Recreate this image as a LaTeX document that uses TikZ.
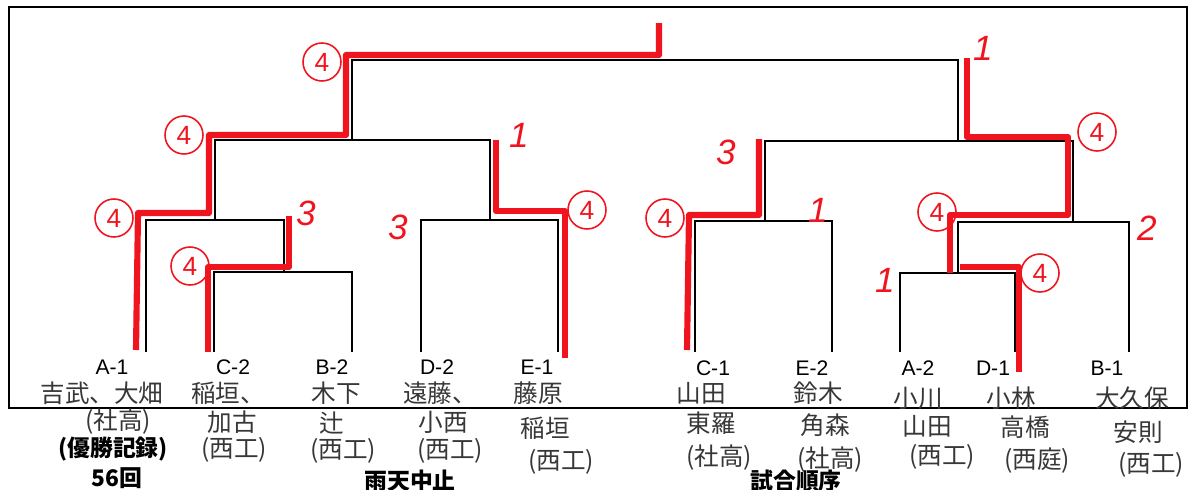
\documentclass[tikz,border=0pt]{standalone}
\usepackage{fontspec}
\newfontfamily\jpfont{Noto Sans CJK JP}
\newfontfamily\latfont{Liberation Sans}
\definecolor{penred}{RGB}{240,20,30}
\definecolor{ink}{RGB}{55,55,55}

\begin{document}
\begin{tikzpicture}[
      x=0.02cm, y=-0.02cm, % 1 unit = 1 px of the sheet
      frame/.style={draw, line width=1pt},
      bar/.style={draw, line width=1.1pt},
      win/.style={draw=penred, line width=3.5pt, line join=round},
      ring/.style={draw=penred, circle, line width=0.9pt, minimum size=0.76cm, inner sep=0pt, text=penred, font=\latfont\fontsize{15}{15}\selectfont},
      score/.style={text=penred, font=\latfont\itshape\fontsize{20}{20}\selectfont},
      team/.style={inner sep=0pt, font=\latfont\fontsize{12}{12}\selectfont},
      hand/.style={inner sep=0pt, text=ink, font=\jpfont\fontsize{14}{14}\selectfont},
      note/.style={inner sep=0pt, font=\jpfont\bfseries\fontsize{13}{13}\selectfont}
    ]
    \useasboundingbox (0,0) rectangle (1200,490);
    \draw[frame] (9,7) rectangle (1187,408);

    % entries (foot of each line)
    \coordinate (a1) at (146,352);
    \coordinate (c2) at (214,352);
    \coordinate (b2) at (352,352);
    \coordinate (d2) at (421,352);
    \coordinate (e1) at (558,352);
    \coordinate (c1) at (695,352);
    \coordinate (e2) at (832,352);
    \coordinate (a2) at (900,352);
    \coordinate (d1) at (1015,352);
    \coordinate (b1) at (1129,352);

    % match points
    \coordinate (j1) at (284,272);
    \coordinate (j2) at (215,220);
    \coordinate (j3) at (490,220);
    \coordinate (j4) at (352,140);
    \coordinate (j5) at (765,221);
    \coordinate (j6) at (958,273);
    \coordinate (j7) at (1073,222);
    \coordinate (j8) at (958,141);
    \coordinate (j9) at (658,60);

    % bracket
    \draw[bar] (c2) |- (j1) -| (b2);
    \draw[bar] (a1) |- (j2) -| (j1);
    \draw[bar] (d2) |- (j3) -| (e1);
    \draw[bar] (j2) |- (j4) -| (j3);
    \draw[bar] (c1) |- (j5) -| (e2);
    \draw[bar] (a2) |- (j6) -| (d1);
    \draw[bar] (j6) |- (j7) -| (b1);
    \draw[bar] (j5) |- (j8) -| (j7);
    \draw[bar] (j4) |- (j9) -| (j8);

    % winners in red
    \draw[win] (136,350) -- (138,213) -- (209,213) -- (209,135) -- (346,135) -- (346,55) -- (659,55) -- (659,23);
    \draw[win] (208,352) -- (208,267) -- (289,267) -- (289,216);
    \draw[win] (565,358) -- (565,211) -- (496,211) -- (496,140);
    \draw[win] (687,350) -- (689,215) -- (759,215) -- (759,139);
    \draw[win] (1019,372) -- (1019,267) -- (960,267);
    \draw[win] (950,273) -- (950,215) -- (1068,215) -- (1068,137) -- (967,137) -- (967,58);

    % circled scores
    \node[ring] (r1) at (322,62) {4};
    \node[ring] (r2) at (184,135) {4};
    \node[ring] (r3) at (114,218) {4};
    \node[ring] (r4) at (190,266) {4};
    \node[ring] (r5) at (587,210) {4};
    \node[ring] (r6) at (665,218) {4};
    \node[ring] (r7) at (1097,132) {4};
    \node[ring] (r8) at (937,212) {4};
    \node[ring] (r9) at (1040,273) {4};

    % losing scores
    \node[score] (s1) at (306,213) {3};
    \node[score] (s2) at (398,227) {3};
    \node[score] (s3) at (519,135) {1};
    \node[score] (s4) at (726,152) {3};
    \node[score] (s5) at (818,210) {1};
    \node[score] (s6) at (983,48) {1};
    \node[score] (s7) at (1147,228) {2};
    \node[score] (s8) at (885,280) {1};

    % team codes
    \node[team] (ta1) at (112,367) {A-1};
    \node[team] (tc2) at (233,367) {C-2};
    \node[team] (tb2) at (332,367) {B-2};
    \node[team] (td2) at (437,367) {D-2};
    \node[team] (te1) at (537,367) {E-1};
    \node[team] (tc1) at (713,368) {C-1};
    \node[team] (te2) at (812,368) {E-2};
    \node[team] (ta2) at (918,368) {A-2};
    \node[team] (td1) at (993,368) {D-1};
    \node[team] (tb1) at (1107,368) {B-1};

    % players and clubs
    \node[hand] (a1n) at (102,393) {吉武、大畑};
    \node[hand] (a1c) at (118,422) {(社高)};
    \node[hand] (c2n) at (228,393) {稲垣、};
    \node[hand] (c2m) at (232,422) {加古};
    \node[hand] (c2c) at (234,450) {(西工)};
    \node[hand] (b2n) at (336,393) {木下};
    \node[hand] (b2m) at (332,423) {辻};
    \node[hand] (b2c) at (343,451) {(西工)};
    \node[hand] (d2n) at (440,393) {遠藤、};
    \node[hand] (d2m) at (443,422) {小西};
    \node[hand] (d2c) at (450,451) {(西工)};
    \node[hand] (e1n) at (538,393) {藤原};
    \node[hand] (e1m) at (545,428) {稲垣};
    \node[hand] (e1c) at (561,462) {(西工)};
    \node[hand] (c1n) at (701,393) {山田};
    \node[hand] (c1m) at (711,423) {東羅};
    \node[hand] (c1c) at (719,458) {(社高)};
    \node[hand] (e2n) at (818,393) {鈴木};
    \node[hand] (e2m) at (825,425) {角森};
    \node[hand] (e2c) at (830,460) {(社高)};
    \node[hand] (a2n) at (918,398) {小川};
    \node[hand] (a2m) at (927,426) {山田};
    \node[hand] (a2c) at (942,457) {(西工)};
    \node[hand] (d1n) at (1011,398) {小林};
    \node[hand] (d1m) at (1025,427) {高橋};
    \node[hand] (d1c) at (1037,461) {(西庭)};
    \node[hand] (b1n) at (1132,398) {大久保};
    \node[hand] (b1m) at (1138,432) {安則};
    \node[hand] (b1c) at (1151,465) {(西工)};

    % printed notes
    \node[note] (rec) at (113,449) {(優勝記録)};
    \node[note] (num) at (117,478) {56回};
    \node[note] (rain) at (410,481) {雨天中止};
    \node[note] (order) at (796,481) {試合順序};
\end{tikzpicture}
\end{document}
